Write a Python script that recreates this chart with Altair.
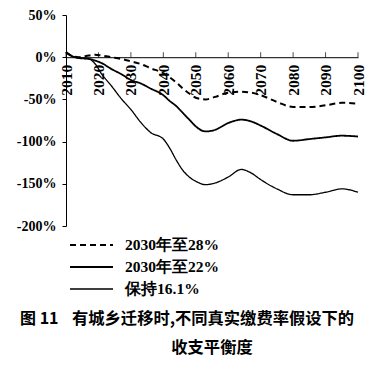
import altair as alt
import pandas as pd

years = [2010, 2012, 2014, 2017, 2019, 2021, 2024, 2027, 2030, 2033, 2036, 2040, 2042,
         2044, 2046, 2048, 2050, 2053, 2056, 2060, 2064, 2067, 2070, 2075, 2080, 2085,
         2090, 2095, 2100]

rate28 = [6, 1, 0, 2, 3, 2, 0, -2, -5, -8, -13, -19, -24, -30, -37, -43, -48, -50, -47,
          -42, -41, -42, -45, -53, -59, -59, -57, -54, -55]
rate22 = [6, 1, -1, -2, -4, -7, -14, -20, -27, -31, -37, -45, -52, -58, -66, -74, -82,
          -88, -86, -78, -74, -76, -81, -91, -99, -97, -95, -93, -94]
rate161 = [6, 1, -1, -2, -8, -20, -34, -49, -62, -77, -89, -97, -108, -122, -134, -142,
           -147, -151, -149, -142, -133, -137, -145, -156, -163, -163, -160, -156, -160]

series_names = ["2030年至28%", "2030年至22%", "保持16.1%"]
decades = list(range(2010, 2101, 10))
y_ticks = [50, 0, -50, -100, -150, -200]

caption_fig = "图 11"
caption_1 = "有城乡迁移时,不同真实缴费率假设下的"
caption_2 = "收支平衡度"

W, H = 292, 211
zero_px = H * 50 / 250.0

rows = []
for name, vals in zip(series_names, [rate28, rate22, rate161]):
    for yr, v in zip(years, vals):
        rows.append({"year": yr, "value": v, "series": name})
df = pd.DataFrame(rows)

xscale = alt.Scale(domain=[2010, 2100], nice=False, zero=False)
yscale = alt.Scale(domain=[-200, 50], nice=False)

serif = "Liberation Serif"
cjk = "Noto Sans CJK SC"

x_axis = alt.Axis(values=decades, format="d", labelAngle=-90, orient="bottom",
                  offset=-(H - zero_px), tickSize=0, labelPadding=7,
                  labelOverlap=False, labelFont=serif, labelFontSize=15.5,
                  labelFontWeight="bold", labelColor="black",
                  domainColor="black", domainWidth=1, grid=False, title=None,
                  labelBaseline="middle")
y_axis = alt.Axis(values=y_ticks, labelExpr="datum.value + '%'", tickSize=4,
                  labelPadding=6, labelOverlap=False, labelFont=serif,
                  labelFontSize=14, labelFontWeight="bold", labelColor="black",
                  domainColor="black", tickColor="black", grid=False, title=None)

base_x = alt.X("year:Q", scale=xscale, axis=x_axis)
base_y = alt.Y("value:Q", scale=yscale, axis=y_axis)

def line_for(name, dash, width):
    return alt.Chart(df[df.series == name]).mark_line(
        interpolate="monotone", color="black", strokeWidth=width, strokeDash=dash,
        clip=False
    ).encode(x=base_x, y=base_y)

l28 = line_for(series_names[0], [6, 4], 2.0)
l22 = line_for(series_names[1], [1, 0], 1.8)
l16 = line_for(series_names[2], [1, 0], 1.3)

ticks = alt.Chart(pd.DataFrame({"year": decades, "value": [0] * len(decades)})).mark_tick(
    orient="vertical", size=5, thickness=1, color="black", yOffset=-2.5
).encode(x=base_x, y=base_y)

# legend
leg_y = [230, 252, 274]
leg_dash = [[6, 4], [1, 0], [1, 0]]
leg_w = [2.0, 1.8, 1.3]
legend_layers = []
for name, yy, dash, w in zip(series_names, leg_y, leg_dash, leg_w):
    legend_layers.append(
        alt.Chart(pd.DataFrame({"s": [name]})).mark_rule(
            color="black", strokeWidth=w, strokeDash=dash
        ).encode(x=alt.value(4), x2=alt.value(47), y=alt.value(yy))
    )
    legend_layers.append(
        alt.Chart(pd.DataFrame({"s": [name]})).mark_text(
            align="left", baseline="middle", font=serif, fontSize=15.5,
            fontWeight="bold", color="black"
        ).encode(x=alt.value(59), y=alt.value(yy), text="s:N")
    )

cap_layers = [
    alt.Chart(pd.DataFrame({"t": [caption_fig]})).mark_text(
        align="left", baseline="middle", font=cjk, fontSize=16, fontWeight="bold",
        color="black").encode(x=alt.value(-46), y=alt.value(304), text="t:N"),
    alt.Chart(pd.DataFrame({"t": [caption_1]})).mark_text(
        align="left", baseline="middle", font=cjk, fontSize=16.3, fontWeight="bold",
        color="black").encode(x=alt.value(6), y=alt.value(304), text="t:N"),
    alt.Chart(pd.DataFrame({"t": [caption_2]})).mark_text(
        align="center", baseline="middle", font=cjk, fontSize=16.3, fontWeight="bold",
        color="black").encode(x=alt.value(146), y=alt.value(333), text="t:N"),
]

chart = alt.layer(l28, l22, l16, ticks, *legend_layers, *cap_layers).properties(
    width=W, height=H,
    autosize=alt.AutoSizeParams(type="none"),
    padding={"left": 58, "top": 7, "right": 14, "bottom": 132},
    background="white",
).configure_view(stroke=None).configure_axis(labelOverlap=False)

chart.save("out.html", embed_options={"renderer": "svg", "actions": False})
